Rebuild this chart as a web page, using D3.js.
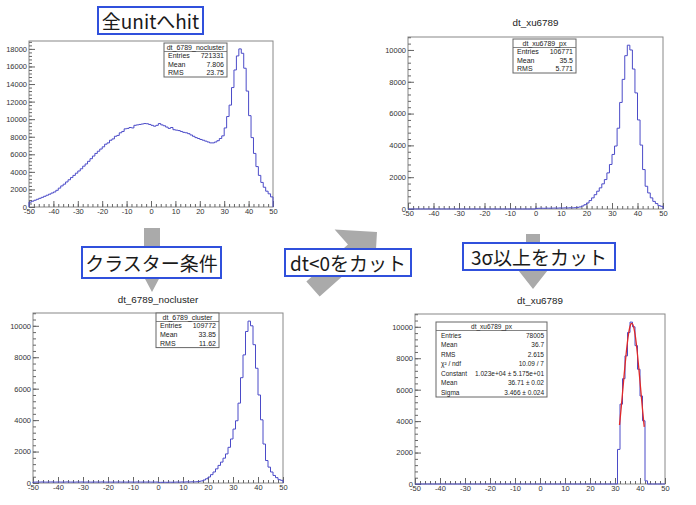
<!DOCTYPE html>
<html>
<head>
<meta charset="utf-8">
<script src="https://cdn.jsdelivr.net/npm/d3@7"></script>
<style>
  body { margin: 0; background: #fff; }
  svg { display: block; }
</style>
</head>
<body>
<svg id="chart" width="696" height="505"></svg>
<script>
// ---- data, 100 bins of width 1 from -50 to 50 ----
const xTickValues = [-50, -40, -30, -20, -10, 0, 10, 20, 30, 40, 50]
const yTicksAll = [0, 2000, 4000, 6000, 8000, 10000, 12000, 14000, 16000, 18000]
const yTicksCut = [0, 2000, 4000, 6000, 8000, 10000]

// all unit hits
const countsAll = [
  550, 660, 770, 880, 990, 1100, 1220, 1340, 1460, 1590,
  1710, 1900, 2150, 2400, 2600, 2850, 3100, 3350, 3600, 3850,
  4100, 4350, 4650, 4900, 5200, 5500, 5800, 6100, 6350, 6600,
  6850, 7150, 7300, 7600, 7750, 8050, 8150, 8450, 8600, 8900,
  8950, 9050, 9000, 9300, 9350, 9400, 9450, 9500, 9480, 9400,
  9300, 9200, 9300, 9500, 9350, 9250, 9100, 8950, 9050, 8800,
  8750, 8700, 8600, 8500, 8450, 8350, 8200, 8050, 7900, 7800,
  7690, 7600, 7500, 7400, 7300, 7300, 7400, 7550, 7800, 8100,
  9000, 10300, 11600, 13600, 15600, 17200, 18000, 17500, 15800, 13200,
  10400, 7900, 6100, 4600, 3600, 2800, 2250, 1800, 1500, 1150
]

// after the dt<0 cut
const countsPositive = [
  0, 0, 0, 0, 0, 0, 0, 0, 0, 0,
  0, 0, 0, 0, 0, 0, 0, 0, 0, 0,
  0, 0, 0, 0, 0, 0, 0, 0, 0, 0,
  0, 0, 0, 0, 0, 0, 0, 0, 0, 0,
  0, 0, 0, 0, 0, 0, 0, 0, 0, 0,
  40, 45, 50, 45, 55, 50, 55, 60, 55, 65,
  60, 70, 65, 75, 70, 80, 100, 130, 190, 270,
  380, 530, 700, 900, 1120, 1330, 1580, 1850, 2270, 2800,
  3430, 3960, 5080, 6700, 8150, 9640, 10300, 10000, 8800, 7300,
  5600, 4020, 2480, 1430, 1010, 700, 480, 340, 210, 170
]

// cluster condition
const countsCluster = [
  55, 62, 58, 65, 60, 57, 63, 66, 59, 61,
  64, 58, 60, 67, 62, 59, 56, 63, 61, 65,
  58, 60, 62, 57, 64, 61, 59, 66, 60, 58,
  63, 57, 61, 60, 65, 59, 62, 58, 64, 60,
  57, 63, 61, 59, 62, 60, 64, 58, 61, 62,
  40, 45, 50, 45, 55, 50, 55, 60, 55, 65,
  60, 70, 65, 75, 70, 80, 100, 130, 190, 270,
  380, 530, 700, 900, 1120, 1330, 1580, 1850, 2270, 2800,
  3430, 3960, 5080, 6700, 8150, 9640, 10300, 10000, 8800, 7300,
  5600, 4020, 2480, 1430, 1010, 700, 480, 340, 210, 170
]

// 3 sigma cut
const countsSigmaCut = [
  0, 0, 0, 0, 0, 0, 0, 0, 0, 0,
  0, 0, 0, 0, 0, 0, 0, 0, 0, 0,
  0, 0, 0, 0, 0, 0, 0, 0, 0, 0,
  0, 0, 0, 0, 0, 0, 0, 0, 0, 0,
  0, 0, 0, 0, 0, 0, 0, 0, 0, 0,
  0, 0, 0, 0, 0, 0, 0, 0, 0, 0,
  0, 0, 0, 0, 0, 0, 0, 0, 0, 0,
  0, 0, 0, 0, 0, 0, 0, 0, 0, 0,
  0, 2200, 5080, 6700, 8150, 9640, 10300, 10000, 8800, 7300,
  5600, 4020, 200, 0, 0, 0, 0, 0, 0, 0
]

// gaussian fit line
const fitX = [31.8, 32, 32.5, 33, 33.5, 34, 34.5, 35, 35.5, 36, 36.5, 37, 37.5, 38, 38.5, 39, 39.5, 40, 40.5, 41, 41.5, 41.7]
const fitY = [3750, 4065, 4895, 5770, 6663, 7536, 8350, 9058, 9626, 10017, 10211, 10194, 9968, 9546, 8953, 8225, 7399, 6520, 5627, 4756, 3939, 3630]

const statsAll = [["Entries", "721331"], ["Mean", "7.806"], ["RMS", "23.75"]]
const statsPositive = [["Entries", "106771"], ["Mean", "35.5"], ["RMS", "5.771"]]
const statsCluster = [["Entries", "109772"], ["Mean", "33.85"], ["RMS", "11.62"]]
const statsSigmaCut = [
  ["Entries", "78005"], ["Mean", "36.7"], ["RMS", "2.615"], ["χ² / ndf", "10.09 / 7"],
  ["Constant", "1.023e+04 ± 5.175e+01"], ["Mean", "36.71 ± 0.02"], ["Sigma", "3.466 ± 0.024"]
]

const svg = d3.select("#chart")
const rootFont = "'Liberation Sans', Arial, Helvetica, sans-serif"
const jpFont = "'Noto Sans CJK JP', 'Noto Sans', sans-serif"
const histColor = "#4b4bc8"

// ---- arrows and labels of the flow ----
function blockArrow(tail, tip, shaftHalf, headHalf, headLen) {
  const dx = tip[0] - tail[0], dy = tip[1] - tail[1]
  const len = Math.hypot(dx, dy)
  const ux = dx / len, uy = dy / len
  const px = -uy, py = ux
  const bx = tip[0] - ux * headLen, by = tip[1] - uy * headLen
  const pts = [
    [tail[0] + px * shaftHalf, tail[1] + py * shaftHalf],
    [bx + px * shaftHalf, by + py * shaftHalf],
    [bx + px * headHalf, by + py * headHalf],
    tip,
    [bx - px * headHalf, by - py * headHalf],
    [bx - px * shaftHalf, by - py * shaftHalf],
    [tail[0] - px * shaftHalf, tail[1] - py * shaftHalf]
  ]
  svg.append("path")
    .attr("d", d3.line()(pts) + "Z")
    .attr("fill", "#aaaaaa")
}
blockArrow([152, 228], [152, 292], 8, 16, 30)
blockArrow([313, 289], [377, 232], 10, 30, 30)
blockArrow([533, 234], [533, 289], 7, 22, 28)

function labelBox(x, y, w, h, text) {
  svg.append("rect")
    .attr("x", x).attr("y", y).attr("width", w).attr("height", h)
    .attr("fill", "#fff").attr("stroke", "#3050dc").attr("stroke-width", 2)
  svg.append("text")
    .attr("x", x + w / 2).attr("y", y + h / 2)
    .attr("text-anchor", "middle").attr("dominant-baseline", "central")
    .attr("font-family", jpFont).attr("font-size", "19px").attr("fill", "#1a1a1a")
    .text(text)
}

// ---- ROOT style histogram panels ----
function drawPanel(p) {
  const g = svg.append("g")
  const x = d3.scaleLinear().domain([-50, 50]).range([p.x0, p.x1])
  const y = d3.scaleLinear().domain([0, d3.max(p.counts) * 1.05]).range([p.y1, p.y0])

  g.append("rect")
    .attr("x", p.x0).attr("y", p.y0).attr("width", p.x1 - p.x0).attr("height", p.y1 - p.y0)
    .attr("fill", "#fff").attr("stroke", "#888").attr("stroke-width", 1)

  // minor + major ticks drawn inside the frame
  const minorX = g.append("g").attr("transform", `translate(0,${p.y1})`)
    .call(d3.axisBottom(x).tickValues(d3.range(-50, 51, 2)).tickSize(-3).tickFormat(""))
  const majorX = g.append("g").attr("transform", `translate(0,${p.y1})`)
    .call(d3.axisBottom(x).tickValues(xTickValues).tickSize(-6).tickPadding(2).tickFormat(d3.format("d")))
  const minorY = g.append("g").attr("transform", `translate(${p.x0},0)`)
    .call(d3.axisLeft(y).tickValues(d3.range(0, y.domain()[1], 400)).tickSize(-3).tickFormat(""))
  const majorY = g.append("g").attr("transform", `translate(${p.x0},0)`)
    .call(d3.axisLeft(y).tickValues(p.yTicks).tickSize(-6).tickPadding(2).tickFormat(d3.format("d")))
  ;[minorX, majorX, minorY, majorY].forEach(a => {
    a.select(".domain").remove()
    a.selectAll("line").attr("stroke", "#666")
    a.selectAll("text").attr("font-family", rootFont).attr("font-size", "7.5px").attr("fill", "#333")
  })
  majorX.selectAll("text").text(d => d3.format("d")(d).replace("−", "-"))
  majorY.selectAll("text").text(d => d3.format("d")(d))

  const pts = [[-50, 0]]
  p.counts.forEach((c, i) => { pts.push([-50 + i, c], [-49 + i, c]) })
  pts.push([50, 0])
  g.append("path")
    .attr("d", d3.line().x(d => x(d[0])).y(d => y(d[1]))(pts))
    .attr("fill", "none").attr("stroke", histColor).attr("stroke-width", 1)

  if (p.fit) {
    g.append("path")
      .attr("d", d3.line().x((d, i) => x(fitX[i])).y(d => y(d)).curve(d3.curveMonotoneX)(fitY))
      .attr("fill", "none").attr("stroke", "#e02828").attr("stroke-width", 1.3)
  }

  if (p.title) {
    g.append("text")
      .attr("x", (p.x0 + p.x1) / 2).attr("y", p.titleY)
      .attr("text-anchor", "middle")
      .attr("font-family", rootFont).attr("font-size", "9.8px").attr("fill", "#222")
      .text(p.title)
  }

  // stats box
  const s = p.stats
  const h = s.titleH + s.rows.length * s.rowH
  g.append("rect")
    .attr("x", s.x).attr("y", s.y).attr("width", s.w).attr("height", h)
    .attr("fill", "#fff").attr("stroke", "#666").attr("stroke-width", 1)
  g.append("line")
    .attr("x1", s.x).attr("x2", s.x + s.w)
    .attr("y1", s.y + s.titleH).attr("y2", s.y + s.titleH)
    .attr("stroke", "#666").attr("stroke-width", 0.8)
  g.append("text")
    .attr("x", s.x + s.w / 2).attr("y", s.y + s.titleH / 2)
    .attr("text-anchor", "middle").attr("dominant-baseline", "central")
    .attr("font-family", rootFont).attr("font-size", s.font).attr("fill", "#222")
    .text(s.name)
  s.rows.forEach((r, i) => {
    const cy = s.y + s.titleH + s.rowH * (i + 0.5)
    g.append("text")
      .attr("x", s.x + s.padL).attr("y", cy)
      .attr("dominant-baseline", "central")
      .attr("font-family", rootFont).attr("font-size", s.font).attr("fill", "#222")
      .text(r[0])
    g.append("text")
      .attr("x", s.x + s.w - 3).attr("y", cy)
      .attr("text-anchor", "end").attr("dominant-baseline", "central")
      .attr("font-family", rootFont).attr("font-size", s.font).attr("fill", "#222")
      .text(r[1])
  })
}

drawPanel({
  x0: 29, x1: 273, y0: 41, y1: 207, counts: countsAll, yTicks: yTicksAll,
  stats: { x: 164, y: 43, w: 63, titleH: 8.5, rowH: 8.5, padL: 4, font: "7px", name: "dt_6789_nocluster", rows: statsAll }
})
drawPanel({
  x0: 408, x1: 663, y0: 37, y1: 209, counts: countsPositive, yTicks: yTicksCut,
  title: "dt_xu6789", titleY: 26,
  stats: { x: 513, y: 39, w: 63, titleH: 8.5, rowH: 8.5, padL: 4, font: "7px", name: "dt_xu6789_px", rows: statsPositive }
})
drawPanel({
  x0: 33, x1: 283, y0: 313, y1: 483, counts: countsCluster, yTicks: yTicksCut,
  title: "dt_6789_nocluster", titleY: 303,
  stats: { x: 156, y: 313, w: 63, titleH: 8.5, rowH: 8.7, padL: 4, font: "7px", name: "dt_6789_cluster", rows: statsCluster }
})
drawPanel({
  x0: 415, x1: 665, y0: 314, y1: 484, counts: countsSigmaCut, yTicks: yTicksCut, fit: true,
  title: "dt_xu6789", titleY: 304,
  stats: { x: 436, y: 322, w: 111, titleH: 8.5, rowH: 9.5, padL: 5, font: "6.5px", name: "dt_xu6789_px", rows: statsSigmaCut }
})

labelBox(98, 7, 105, 27, "全unitへhit")
labelBox(82, 247, 139, 31, "クラスター条件")
labelBox(285, 249, 126, 27, "dt<0をカット")
labelBox(463, 243, 152, 27, "3σ以上をカット")
</script>
</body>
</html>
